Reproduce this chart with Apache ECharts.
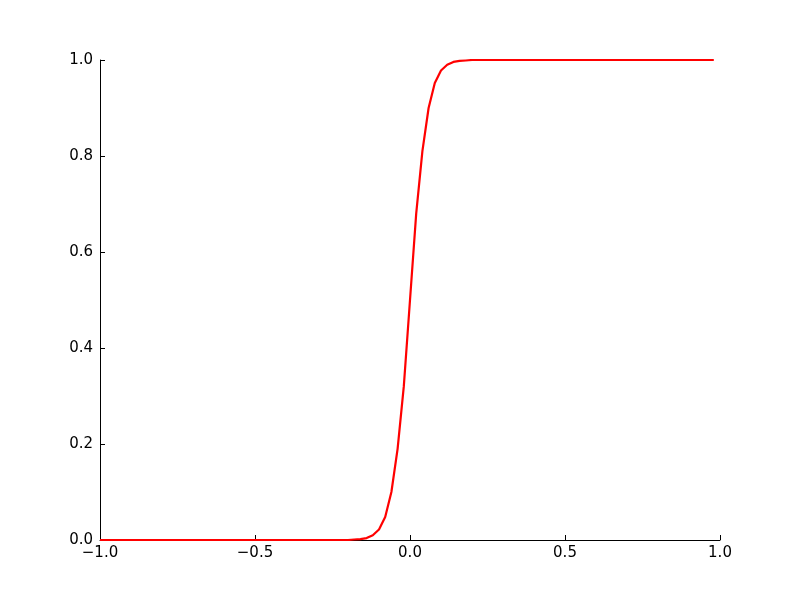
<!DOCTYPE html>
<html>
<head>
<meta charset="utf-8">
<script src="https://cdn.jsdelivr.net/npm/echarts@6/dist/echarts.min.js"></script>
<style>html,body{margin:0;padding:0;background:#fff;}#c{width:800px;height:600px;}</style>
</head>
<body>
<div id="c"></div>
<script>
const xValues = [
 -1.00,-0.98,-0.96,-0.94,-0.92,-0.90,-0.88,-0.86,-0.84,-0.82,
 -0.80,-0.78,-0.76,-0.74,-0.72,-0.70,-0.68,-0.66,-0.64,-0.62,
 -0.60,-0.58,-0.56,-0.54,-0.52,-0.50,-0.48,-0.46,-0.44,-0.42,
 -0.40,-0.38,-0.36,-0.34,-0.32,-0.30,-0.28,-0.26,-0.24,-0.22,
 -0.20,-0.18,-0.16,-0.14,-0.12,-0.10,-0.08,-0.06,-0.04,-0.02,
  0.00, 0.02, 0.04, 0.06, 0.08, 0.10, 0.12, 0.14, 0.16, 0.18,
  0.20, 0.22, 0.24, 0.26, 0.28, 0.30, 0.32, 0.34, 0.36, 0.38,
  0.40, 0.42, 0.44, 0.46, 0.48, 0.50, 0.52, 0.54, 0.56, 0.58,
  0.60, 0.62, 0.64, 0.66, 0.68, 0.70, 0.72, 0.74, 0.76, 0.78,
  0.80, 0.82, 0.84, 0.86, 0.88, 0.90, 0.92, 0.94, 0.96, 0.98
];
const yValues = [
 0,0,0,0,0,0,0,0,0,0,
 0,0,0,0,0,0,0,0,0,0,
 0,0,0,0,0,0,0,0,0,0,
 0,0,0,0,0,0,0,0,0,0,
 0,0.001,0.002,0.004,0.01,0.022,0.048,0.10,0.19,0.32,
 0.5,0.68,0.81,0.90,0.952,0.978,0.99,0.996,0.998,0.999,
 1,1,1,1,1,1,1,1,1,1,
 1,1,1,1,1,1,1,1,1,1,
 1,1,1,1,1,1,1,1,1,1,
 1,1,1,1,1,1,1,1,1,1
];
const xTicks = [-1.0, -0.5, 0.0, 0.5, 1.0];
const yTicks = [0.0, 0.2, 0.4, 0.6, 0.8, 1.0];

const fmt = v => v.toFixed(1).replace('-', '\u2212');
const font = 'DejaVu Sans';
const chart = echarts.init(document.getElementById('c'), null, {renderer: 'canvas'});
chart.setOption({
  animation: false,
  backgroundColor: '#ffffff',
  grid: {left: 100, right: 80, top: 60, bottom: 60, containLabel: false},
  xAxis: {
    type: 'value', min: xTicks[0], max: xTicks[xTicks.length - 1], interval: 0.5,
    axisLine: {show: true, onZero: false, lineStyle: {color: '#000', width: 1}},
    axisTick: {show: true, inside: true, length: 5, lineStyle: {color: '#000'}},
    axisLabel: {formatter: fmt, color: '#000', fontFamily: font, fontSize: 15, margin: 6},
    splitLine: {show: false}
  },
  yAxis: {
    type: 'value', min: yTicks[0], max: yTicks[yTicks.length - 1], interval: 0.2,
    axisLine: {show: true, onZero: false, lineStyle: {color: '#000', width: 1}},
    axisTick: {show: true, inside: true, length: 5, lineStyle: {color: '#000'}},
    axisLabel: {formatter: fmt, color: '#000', fontFamily: font, fontSize: 15, margin: 7},
    splitLine: {show: false}
  },
  series: [{
    type: 'line',
    data: xValues.map((x, i) => [x, yValues[i]]),
    showSymbol: false,
    smooth: false,
    lineStyle: {color: '#ff0000', width: 2.2},
    itemStyle: {color: '#ff0000'}
  }]
});
</script>
</body>
</html>
